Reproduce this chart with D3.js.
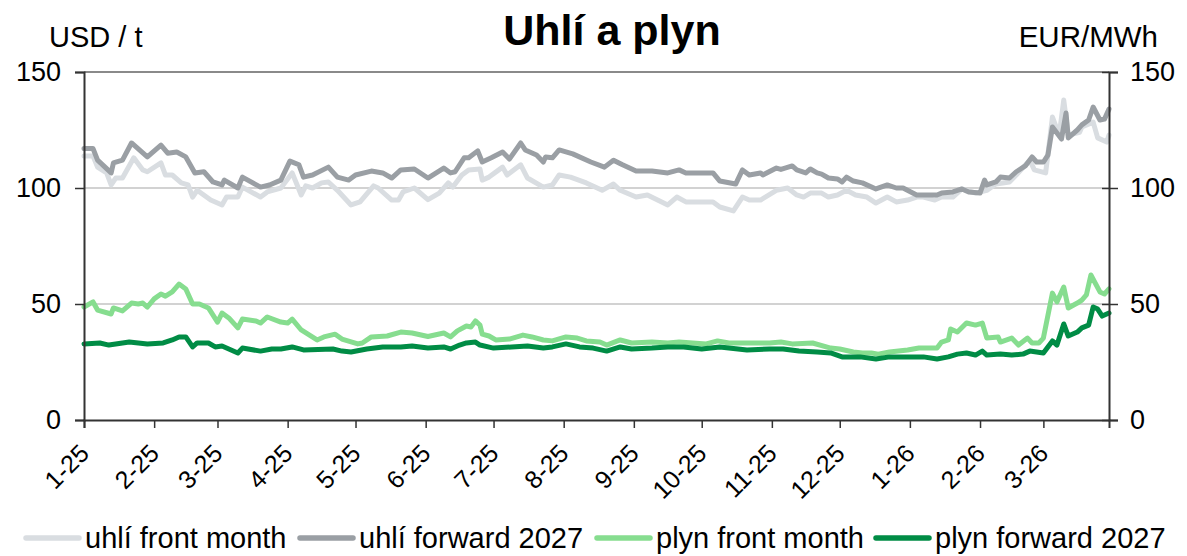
<!DOCTYPE html>
<html>
<head>
<meta charset="utf-8">
<script src="https://cdn.jsdelivr.net/npm/d3@7"></script>
<style>
  html, body { margin: 0; padding: 0; background: #fff; }
  svg { display: block; font-family: "Liberation Sans", Arial, sans-serif; }
</style>
</head>
<body>
<svg id="chart" width="1187" height="556"></svg>
<script>
// ---------- DATA ----------
const title = "Uhlí a plyn";
const leftUnit = "USD / t";
const rightUnit = "EUR/MWh";
const yTicks = [0, 50, 100, 150];
const monthTicks = ["2025-01-01","2025-02-01","2025-03-01","2025-04-01","2025-05-01","2025-06-01","2025-07-01","2025-08-01","2025-09-01","2025-10-01","2025-11-01","2025-12-01","2026-01-01","2026-02-01","2026-03-01"];
const seriesNames = ["uhlí front month", "uhlí forward 2027", "plyn front month", "plyn forward 2027"];

const coalFrontDates = ["2025-01-01","2025-01-05","2025-01-07","2025-01-11","2025-01-13","2025-01-15","2025-01-18","2025-01-23","2025-01-27","2025-01-29","2025-02-04","2025-02-06","2025-02-09","2025-02-13","2025-02-16","2025-02-18","2025-02-20","2025-02-26","2025-03-03","2025-03-05","2025-03-10","2025-03-12","2025-03-20","2025-03-23","2025-03-29","2025-04-03","2025-04-07","2025-04-09","2025-04-12","2025-04-16","2025-04-19","2025-04-23","2025-04-29","2025-05-03","2025-05-09","2025-05-11","2025-05-17","2025-05-20","2025-05-22","2025-05-27","2025-06-02","2025-06-07","2025-06-11","2025-06-13","2025-06-17","2025-06-20","2025-06-25","2025-06-26","2025-06-29","2025-07-05","2025-07-07","2025-07-13","2025-07-16","2025-07-23","2025-07-27","2025-07-30","2025-08-04","2025-08-11","2025-08-18","2025-08-23","2025-08-26","2025-09-02","2025-09-07","2025-09-16","2025-09-20","2025-09-24","2025-09-30","2025-10-06","2025-10-09","2025-10-15","2025-10-19","2025-10-22","2025-10-27","2025-11-03","2025-11-08","2025-11-12","2025-11-15","2025-11-18","2025-11-23","2025-11-26","2025-11-30","2025-12-04","2025-12-08","2025-12-13","2025-12-17","2025-12-22","2025-12-26","2025-12-31","2026-01-04","2026-01-07","2026-01-12","2026-01-15","2026-01-20","2026-01-24","2026-01-30","2026-02-04","2026-02-08","2026-02-14","2026-02-17","2026-02-23","2026-02-25","2026-03-02","2026-03-05","2026-03-08","2026-03-10","2026-03-12","2026-03-17","2026-03-18","2026-03-23","2026-03-25","2026-03-29","2026-03-30"];
const coalFrontValues = [113.8,113.8,109,106.5,101.3,104.3,104.3,113,107.8,107,110.8,105.6,105.6,102.2,101.3,96.1,99,94.8,92.7,96.1,96.1,100.4,96.1,98.3,100,106.5,97,100.9,100,102.2,102.6,99,92.7,94,100.9,100,94.8,94.8,98.3,100,95,97.8,102.2,100.4,105.6,107.8,108.2,103.4,104.7,109,105.6,110,104.3,100.4,101.3,105.6,104.7,102.2,99,101.7,99,96.1,97,92.7,96.1,94,94,94,91.8,90.1,96.1,94.8,94.8,99,100,97,96.1,97.8,97.8,96.1,97,99,97,96.1,93.5,96.1,94,94.8,96.1,96.1,94.8,96.1,96.1,99.6,97.8,99,101.7,102.6,105.6,112,107.8,106.5,130.6,122.8,137.9,122.8,124,126.3,128.4,121.6,119.8,122.8];

const coalFwdDates = ["2025-01-01","2025-01-05","2025-01-07","2025-01-13","2025-01-14","2025-01-18","2025-01-22","2025-01-29","2025-02-04","2025-02-07","2025-02-11","2025-02-15","2025-02-19","2025-02-23","2025-02-27","2025-03-03","2025-03-04","2025-03-10","2025-03-12","2025-03-20","2025-03-24","2025-03-29","2025-04-02","2025-04-06","2025-04-08","2025-04-12","2025-04-19","2025-04-23","2025-04-28","2025-05-01","2025-05-08","2025-05-13","2025-05-17","2025-05-21","2025-05-27","2025-06-02","2025-06-09","2025-06-12","2025-06-14","2025-06-18","2025-06-20","2025-06-24","2025-06-26","2025-06-30","2025-07-05","2025-07-08","2025-07-13","2025-07-15","2025-07-20","2025-07-23","2025-07-24","2025-07-27","2025-07-30","2025-08-05","2025-08-13","2025-08-19","2025-08-23","2025-08-27","2025-09-02","2025-09-09","2025-09-16","2025-09-21","2025-09-24","2025-10-06","2025-10-09","2025-10-16","2025-10-19","2025-10-22","2025-10-27","2025-10-28","2025-11-03","2025-11-05","2025-11-10","2025-11-12","2025-11-16","2025-11-18","2025-11-21","2025-11-23","2025-11-26","2025-11-30","2025-12-02","2025-12-04","2025-12-07","2025-12-11","2025-12-17","2025-12-22","2025-12-26","2025-12-29","2026-01-04","2026-01-07","2026-01-13","2026-01-15","2026-01-20","2026-01-24","2026-01-27","2026-02-01","2026-02-03","2026-02-04","2026-02-08","2026-02-10","2026-02-14","2026-02-17","2026-02-21","2026-02-24","2026-02-26","2026-03-01","2026-03-03","2026-03-05","2026-03-09","2026-03-11","2026-03-12","2026-03-16","2026-03-18","2026-03-21","2026-03-23","2026-03-26","2026-03-28","2026-03-30"];
const coalFwdValues = [117,117,112,106.5,110.8,112,119.4,113.4,118.5,115,115.5,113.4,106.5,107,102.6,101.3,103.4,100,104.7,100.4,101.3,103.4,111.6,110,104.7,105.6,109,104.7,103.4,105.6,107.3,106.5,104.3,107.8,108.2,104.3,108.6,106.5,107,113,113,116,111.2,113,115.5,112.5,119.4,116.4,114.2,111.2,113.4,113,116.4,114.7,111.2,109,112,110,107.3,107.3,106.5,107.8,106.5,106.5,103,101.7,107.8,105.6,106.5,105.6,108.6,108,109.5,107.8,106.5,108.2,106.5,106,104.3,103.9,102.6,104.7,103,102.2,99.6,101.3,100,100,97,97,97,97.8,98.3,99.6,98.3,97.8,103.4,101.3,102.6,104.7,104.3,107,109.5,113.4,111.2,111.2,114.2,126.3,121.1,132.3,121.6,125,127.2,129.3,134.9,129.3,129.7,134];

const gasFrontDates = ["2025-01-01","2025-01-05","2025-01-07","2025-01-13","2025-01-14","2025-01-18","2025-01-22","2025-01-25","2025-01-27","2025-01-29","2025-02-01","2025-02-04","2025-02-06","2025-02-09","2025-02-12","2025-02-15","2025-02-18","2025-02-21","2025-02-25","2025-03-01","2025-03-03","2025-03-06","2025-03-10","2025-03-12","2025-03-18","2025-03-20","2025-03-23","2025-03-29","2025-04-01","2025-04-03","2025-04-07","2025-04-14","2025-04-17","2025-04-22","2025-04-25","2025-05-02","2025-05-04","2025-05-08","2025-05-15","2025-05-21","2025-05-26","2025-06-02","2025-06-09","2025-06-12","2025-06-15","2025-06-19","2025-06-21","2025-06-23","2025-06-25","2025-06-26","2025-06-29","2025-07-02","2025-07-08","2025-07-14","2025-07-18","2025-07-23","2025-07-27","2025-08-02","2025-08-07","2025-08-11","2025-08-17","2025-08-20","2025-08-26","2025-08-31","2025-09-09","2025-09-16","2025-09-21","2025-09-27","2025-10-03","2025-10-08","2025-10-13","2025-10-21","2025-10-31","2025-11-05","2025-11-10","2025-11-19","2025-11-27","2025-12-01","2025-12-07","2025-12-11","2025-12-15","2025-12-18","2025-12-23","2025-12-31","2026-01-05","2026-01-13","2026-01-15","2026-01-18","2026-01-19","2026-01-22","2026-01-26","2026-01-30","2026-02-02","2026-02-04","2026-02-09","2026-02-10","2026-02-15","2026-02-18","2026-02-22","2026-02-24","2026-02-27","2026-03-01","2026-03-05","2026-03-07","2026-03-10","2026-03-12","2026-03-16","2026-03-18","2026-03-20","2026-03-22","2026-03-26","2026-03-28","2026-03-30"];
const gasFrontValues = [48.7,50.9,47.4,45.7,48.3,47,50.4,50,50.4,48.7,52.2,54.3,53.4,55.2,58.6,56.5,50,50,48.3,42.2,46.1,44,39.7,43.5,42.7,41.8,44.4,42.2,41.8,43.5,38.8,34.5,35.8,37,34.9,32.8,33.2,35.8,36.2,37.9,37.5,36,37.5,35.8,38.4,40.5,40.1,42.7,40.9,37,36.2,34.5,34.9,36.6,35.8,34.5,34.1,35.8,35.3,34.1,33.6,32.3,34.5,33.2,33.6,33.2,33.6,33.2,32.8,34.1,33.2,33.2,33.2,33.6,32.8,33.2,31,30.6,29.3,28.9,28.9,28.4,29.3,30.2,31,31,33.6,34.5,39.2,37.9,41.8,40.9,41.8,35.3,35.8,33.6,35.3,32.3,35.3,33.2,33.2,35.3,54.7,50.9,57.3,48.3,50.4,51.7,53.9,62.5,55.2,54.3,56.5];

const gasFwdDates = ["2025-01-01","2025-01-08","2025-01-12","2025-01-21","2025-01-29","2025-02-05","2025-02-09","2025-02-12","2025-02-15","2025-02-18","2025-02-20","2025-02-25","2025-02-28","2025-03-03","2025-03-10","2025-03-12","2025-03-20","2025-03-25","2025-03-29","2025-04-03","2025-04-08","2025-04-21","2025-04-25","2025-04-29","2025-05-06","2025-05-13","2025-05-21","2025-05-26","2025-06-02","2025-06-09","2025-06-12","2025-06-16","2025-06-19","2025-06-23","2025-06-25","2025-07-01","2025-07-09","2025-07-16","2025-07-23","2025-07-27","2025-08-02","2025-08-08","2025-08-14","2025-08-20","2025-08-26","2025-08-31","2025-09-09","2025-09-16","2025-09-23","2025-10-01","2025-10-09","2025-10-21","2025-10-31","2025-11-06","2025-11-13","2025-11-21","2025-11-27","2025-12-02","2025-12-10","2025-12-17","2025-12-23","2025-12-31","2026-01-07","2026-01-13","2026-01-18","2026-01-22","2026-01-26","2026-01-30","2026-02-02","2026-02-04","2026-02-10","2026-02-15","2026-02-20","2026-02-23","2026-03-01","2026-03-03","2026-03-05","2026-03-07","2026-03-10","2026-03-12","2026-03-16","2026-03-18","2026-03-21","2026-03-23","2026-03-25","2026-03-27","2026-03-30"];
const gasFwdValues = [32.8,33.2,32.3,33.6,32.8,33.2,34.5,35.8,35.8,31.5,33.2,33.2,31.5,31.9,28.9,31,29.7,30.6,30.6,31.5,30.2,30.6,29.7,29.3,30.6,31.5,31.5,31.9,31,31.5,30.6,32.3,33.2,33.6,32.3,31,31.5,31.9,31,31.5,32.8,31.5,31,29.7,31.5,30.6,31,31.5,31.5,30.6,31.5,30.2,30.6,30.6,29.7,29.3,28.9,27.2,27.2,26.3,27.2,27.2,27.2,26.3,27.2,28.4,28.9,28,29.7,28,28.4,28,28.4,29.7,28.9,31.5,34.1,32.3,41.4,36.2,37.9,39.7,40.9,48.7,47.8,44.8,46.1];

const seriesColors = ["#d9dde1", "#9a9fa4", "#86dd8f", "#008c45"];

// ---------- CHART ----------
const svg = d3.select("#chart");
const plot = { left: 84, right: 1109, top: 72, bottom: 420 };
const parse = d3.timeParse("%Y-%m-%d");
const FONT = "Liberation Sans, Arial, sans-serif";

const x = d3.scaleTime()
  .domain([parse("2025-01-01"), parse("2026-03-30")])
  .range([plot.left, plot.right]);
const yL = d3.scaleLinear().domain([0, 150]).range([plot.bottom, plot.top]);
const yR = d3.scaleLinear().domain([0, 150]).range([plot.bottom, plot.top]);

// gridlines
svg.append("g").selectAll("line").data([50, 100]).join("line")
  .attr("x1", plot.left).attr("x2", plot.right)
  .attr("y1", d => yL(d)).attr("y2", d => yL(d))
  .attr("stroke", "#c3c3c3").attr("stroke-width", 1.5);

// top border
svg.append("line")
  .attr("x1", plot.left).attr("x2", plot.right)
  .attr("y1", yL(150)).attr("y2", yL(150))
  .attr("stroke", "#8a8a8a").attr("stroke-width", 2);

// series
const series = [
  { name: seriesNames[0], dates: coalFrontDates, values: coalFrontValues, y: yL, color: seriesColors[0] },
  { name: seriesNames[1], dates: coalFwdDates, values: coalFwdValues, y: yL, color: seriesColors[1] },
  { name: seriesNames[2], dates: gasFrontDates, values: gasFrontValues, y: yR, color: seriesColors[2] },
  { name: seriesNames[3], dates: gasFwdDates, values: gasFwdValues, y: yR, color: seriesColors[3] }
];
series.forEach(s => {
  const pts = s.dates.map((d, i) => [parse(d), s.values[i]]);
  const line = d3.line().x(d => x(d[0])).y(d => s.y(d[1]));
  svg.append("path").datum(pts)
    .attr("d", line)
    .attr("fill", "none")
    .attr("stroke", s.color)
    .attr("stroke-width", 5)
    .attr("stroke-linejoin", "round")
    .attr("stroke-linecap", "round");
});

// left axis
const leftAxis = d3.axisLeft(yL).tickValues(yTicks).tickSize(9).tickPadding(14).tickFormat(d3.format("d"));
const gL = svg.append("g").attr("transform", `translate(${plot.left},0)`).call(leftAxis);
gL.select(".domain").attr("stroke", "#333").attr("stroke-width", 2);
gL.selectAll(".tick line").attr("stroke", "#333").attr("stroke-width", 1.5);
gL.selectAll(".tick text").attr("font-size", 27).attr("fill", "#000").attr("font-family", FONT);

// right axis
const rightAxis = d3.axisRight(yR).tickValues(yTicks).tickSize(9).tickPadding(12).tickFormat(d3.format("d"));
const gR = svg.append("g").attr("transform", `translate(${plot.right},0)`).call(rightAxis);
gR.select(".domain").attr("stroke", "#333").attr("stroke-width", 2);
gR.selectAll(".tick line").attr("stroke", "#333").attr("stroke-width", 1.5).attr("x1", -7);
gR.selectAll(".tick text").attr("font-size", 27).attr("fill", "#000").attr("font-family", FONT);

// bottom axis
const bottomAxis = d3.axisBottom(x).tickValues(monthTicks.map(parse)).tickSize(8).tickFormat(d3.timeFormat("%-m-%y"));
const gB = svg.append("g").attr("transform", `translate(0,${plot.bottom})`).call(bottomAxis);
gB.select(".domain").attr("stroke", "#333").attr("stroke-width", 2);
gB.selectAll(".tick line").attr("stroke", "#333").attr("stroke-width", 1.5);
gB.selectAll(".tick text")
  .attr("font-size", 25).attr("fill", "#000").attr("font-family", FONT)
  .attr("text-anchor", "end")
  .attr("dy", 0)
  .attr("y", 0)
  .attr("transform", "translate(6,35) rotate(-45)");

// title and units
svg.append("text").attr("x", 612).attr("y", 45).attr("text-anchor", "middle")
  .attr("font-size", 43).attr("font-weight", "bold").text(title);
svg.append("text").attr("x", 49).attr("y", 47).attr("font-size", 29).text(leftUnit);
svg.append("text").attr("x", 1158).attr("y", 47).attr("text-anchor", "end").attr("font-size", 29.5).text(rightUnit);

// legend
const legendX = [26, 300, 597, 876];
const lg = svg.append("g").attr("transform", "translate(0,538)");
series.forEach((s, i) => {
  const g = lg.append("g").attr("transform", `translate(${legendX[i]},0)`);
  g.append("line").attr("x1", 0).attr("x2", 53).attr("y1", 0).attr("y2", 0)
    .attr("stroke", s.color).attr("stroke-width", 5.5).attr("stroke-linecap", "round");
  g.append("text").attr("x", 59).attr("y", 10).attr("font-size", 29).text(s.name);
});
</script>
</body>
</html>
